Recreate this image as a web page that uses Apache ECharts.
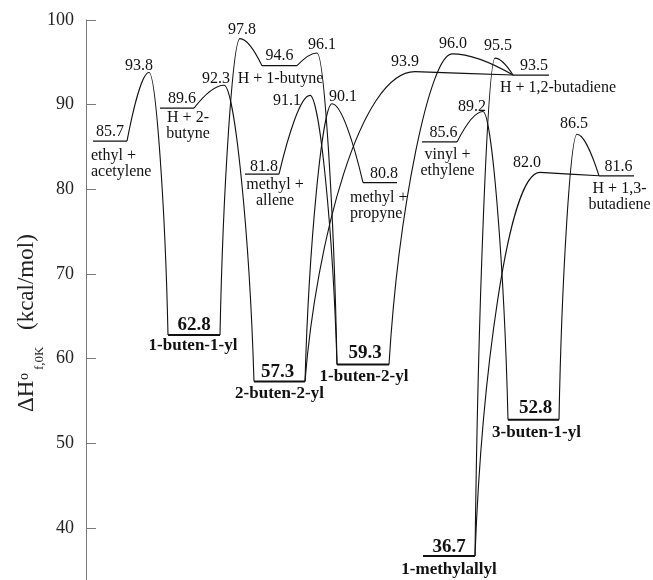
<!DOCTYPE html>
<html>
<head>
<meta charset="utf-8">
<script src="https://cdn.jsdelivr.net/npm/echarts@6/dist/echarts.min.js"></script>
<style>
  html, body { margin: 0; padding: 0; background: #fff; }
  #chart { width: 653px; height: 580px; }
</style>
</head>
<body>
<div id="chart"></div>
<script>
// energy levels (kcal/mol): asymptotes first, then wells
const levelNames = ['ethyl +\nacetylene', 'H + 2-\nbutyne', 'H + 1-butyne', 'methyl +\nallene', 'methyl +\npropyne',
  'vinyl +\nethylene', 'H + 1,2-butadiene', 'H + 1,3-\nbutadiene',
  '1-buten-1-yl', '2-buten-2-yl', '1-buten-2-yl', '1-methylallyl', '3-buten-1-yl']
const levelValues = [85.7, 89.6, 94.6, 81.8, 80.8, 85.6, 93.5, 81.6, 62.8, 57.3, 59.3, 36.7, 52.8]
// reaction coordinate span of each level
const levelStart = [93, 160, 262, 245, 363, 422, 513, 599, 168, 254, 337, 423, 508]
const levelEnd = [127, 194, 297, 279, 397, 457, 549, 634, 220, 305, 389, 475, 559]
const isWell = [0, 0, 0, 0, 0, 0, 0, 0, 1, 1, 1, 1, 1]

// transition states
const tsValues = [93.8, 92.3, 97.8, 96.1, 91.1, 90.1, 93.9, 96.0, 95.5, 89.2, 82.0, 86.5]
const tsPos = [149, 224, 240, 317, 310, 332, 415, 452, 495, 483, 540, 577]
// [level index, end] end 0 = left end, 1 = right end
const tsFrom = [[0, 1], [1, 1], [8, 1], [2, 1], [3, 1], [9, 1], [9, 1], [10, 1], [11, 1], [5, 1], [11, 1], [12, 1]]
const tsTo = [[8, 0], [9, 0], [2, 0], [10, 0], [10, 0], [4, 0], [6, 0], [6, 0], [6, 0], [12, 0], [7, 0], [7, 0]]

const yTicks = [40, 50, 60, 70, 80, 90, 100]

// ---- layout only below ----
const FONT = '"Liberation Serif", "DejaVu Serif", serif'
// curve shape of each side: s = steep (well), a = soft, p = plateau, f = straight
const tsShape = [['a', 's'], ['a', 's'], ['s', 'a'], ['a', 's'], ['a', 's'], ['s', 'a'],
  ['p', 'f'], ['s', 'a'], ['s', 'a'], ['a', 's'], ['p', 'f'], ['s', 'a']]
const tsLabelOff = [[-10, -7], [-8, -6], [2, -9], [5, -8], [-23, 5], [11, -7],
  [-10, -10], [1, -10], [3, -12], [-11, -5], [-13, -10], [-3, -11]]
// value label [dx, dy]
const valueOff = [[0, -9], [5, -9], [0, -10], [2, -7], [4, -9], [4, -9], [3, -9], [2, -9],
  [0, -10], [-2, -9], [2, -12], [0, -9], [2, -12]]
// name label [x relative to level centre, first line centre dy, align]
const nameOff = [[-19, 15, 'left'], [11, 10, 'center'], [1, 13, 'center'], [13, 11, 'center'], [-30, 15, 'left'],
  [8, 13, 'center'], [27, 13, 'center'], [3, 13, 'center'],
  [-1, 11, 'center'], [0, 12, 'center'], [1, 12, 'center'], [0, 14, 'center'], [3, 13, 'center']]

const chart = echarts.init(document.getElementById('chart'))

function txt(text, x, y, font, align, valign) {
  return {
    type: 'text',
    style: {
      text: text, x: x, y: y, font: font, fill: '#111', lineHeight: 16,
      textAlign: align, textVerticalAlign: valign, align: align, verticalAlign: valign
    }
  }
}

function ctrl(L, P, kind) {
  const dx = P[0] - L[0]
  const dy = P[1] - L[1]
  const s = Math.sign(dx) || 1
  if (kind === 'f') {
    return [[L[0] + dx / 3, L[1] + dy / 3], [P[0] - dx / 3, P[1] - dy / 3]]
  }
  const k = { s: [0.35, 0.15, 0.5], a: [0.3, 0.3, 0.5], p: [0.5, 0.1, 0.45] }[kind]
  return [[L[0] + k[1] * dx, L[1] + k[2] * dy], [P[0] - s * k[0] * Math.abs(dx), P[1]]]
}

function endPoint(api, e) {
  const i = e[0]
  return api.coord([e[1] ? levelEnd[i] : levelStart[i], levelValues[i]])
}

const option = {
  animation: false,
  backgroundColor: '#fff',
  grid: { left: 86, right: 0, top: 20, bottom: 0 },
  xAxis: { type: 'value', min: 86, max: 653, show: false },
  yAxis: {
    type: 'value',
    min: 33.86,
    max: 100,
    axisLine: { show: true, lineStyle: { color: '#7a7a7a', width: 1 } },
    axisTick: { show: true, inside: true, length: 10, customValues: yTicks, lineStyle: { color: '#7a7a7a' } },
    axisLabel: { color: '#222', fontFamily: FONT, fontSize: 18, margin: 12, customValues: yTicks },
    splitLine: { show: false }
  },
  graphic: [
    {
      type: 'group',
      x: 33,
      y: 412,
      rotation: Math.PI / 2,
      children: [
        { type: 'text', x: 0, y: 5, style: { text: 'ΔH', font: '23px ' + FONT, fill: '#222', textVerticalAlign: 'bottom', verticalAlign: 'bottom' } },
        { type: 'text', x: 32, y: -9, style: { text: 'o', font: '14px ' + FONT, fill: '#222', textVerticalAlign: 'middle', verticalAlign: 'middle' } },
        { type: 'text', x: 42, y: 7, style: { text: 'f,0K', font: '13px ' + FONT, fill: '#222', textVerticalAlign: 'middle', verticalAlign: 'middle' } },
        { type: 'text', x: 82, y: 5, style: { text: '(kcal/mol)', font: '23px ' + FONT, fill: '#222', textVerticalAlign: 'bottom', verticalAlign: 'bottom' } }
      ]
    }
  ],
  series: [
    {
      // reaction paths through the transition states
      type: 'custom',
      name: 'paths',
      silent: true,
      clip: false,
      encode: { x: 0, y: 1 },
      data: tsValues.map((v, i) => [tsPos[i], v]),
      renderItem: function (params, api) {
        const i = params.dataIndex
        const P = api.coord([tsPos[i], tsValues[i]])
        const A = endPoint(api, tsFrom[i])
        const B = endPoint(api, tsTo[i])
        const c1 = ctrl(A, P, tsShape[i][0])
        const c2 = ctrl(B, P, tsShape[i][1])
        const style = { stroke: '#111', lineWidth: 1.1, fill: 'none' }
        const off = tsLabelOff[i]
        return {
          type: 'group',
          children: [
            {
              type: 'bezierCurve',
              shape: { x1: A[0], y1: A[1], cpx1: c1[0][0], cpy1: c1[0][1], cpx2: c1[1][0], cpy2: c1[1][1], x2: P[0], y2: P[1] },
              style: style
            },
            {
              type: 'bezierCurve',
              shape: { x1: P[0], y1: P[1], cpx1: c2[1][0], cpy1: c2[1][1], cpx2: c2[0][0], cpy2: c2[0][1], x2: B[0], y2: B[1] },
              style: style
            },
            txt(tsValues[i].toFixed(1), P[0] + off[0], P[1] + off[1], '16px ' + FONT, 'center', 'middle')
          ]
        }
      }
    },
    {
      // horizontal levels with value and name
      type: 'custom',
      name: 'levels',
      silent: true,
      clip: false,
      encode: { x: 0, y: 1 },
      data: levelValues.map((v, i) => [levelStart[i], v]),
      renderItem: function (params, api) {
        const i = params.dataIndex
        const p1 = api.coord([levelStart[i], levelValues[i]])
        const p2 = api.coord([levelEnd[i], levelValues[i]])
        const mid = (p1[0] + p2[0]) / 2
        const well = isWell[i]
        const vo = valueOff[i]
        const no = nameOff[i]
        return {
          type: 'group',
          children: [
            {
              type: 'line',
              shape: { x1: p1[0], y1: p1[1], x2: p2[0], y2: p2[1] },
              style: { stroke: '#111', lineWidth: well ? 2 : 1.2 }
            },
            txt(levelValues[i].toFixed(1), mid + vo[0], p1[1] + vo[1],
              (well ? 'bold 19px ' : '16px ') + FONT, 'center', 'middle'),
            txt(levelNames[i], no[2] === 'left' ? p1[0] + no[0] + 17 : mid + no[0], p1[1] + no[1] - 8,
              (well ? 'bold 17px ' : '16px ') + FONT, no[2], 'top')
          ]
        }
      }
    }
  ]
}

chart.setOption(option)
</script>
</body>
</html>
